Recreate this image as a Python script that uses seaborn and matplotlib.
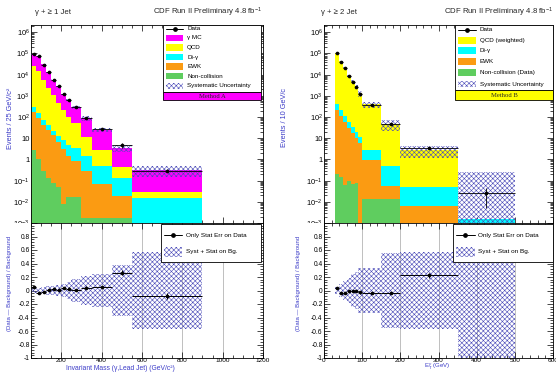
import numpy as np
import pandas as pd
import matplotlib
matplotlib.use("Agg")
import matplotlib.pyplot as plt
import seaborn as sns
from matplotlib.patches import Rectangle
from matplotlib.lines import Line2D
from matplotlib.ticker import MultipleLocator, LogLocator, FuncFormatter, NullFormatter, FixedLocator

# ---------------- gamma + >=1 jet : invariant mass (Method A) ----------------
mass_edges = [50, 75, 100, 125, 150, 175, 200, 225, 250, 300, 350, 450, 550, 900]
# cumulative stack levels (bottom -> top), Events / 25 GeV/c^2
mass_lvl_noncoll = [2.7, 1.0, 0.3, 0.14, 0.08, 0.05, 0.008, 0.017, 0.016, 0.0018, 0.0017, 0.0018, 0]
mass_lvl_ewk = [178, 87, 42, 24, 14, 6.6, 3.2, 1.5, 0.8, 0.3, 0.07, 0.019, 0]
mass_lvl_diphoton = [310, 150, 75, 40, 22, 13, 8, 5, 3.5, 1.5, 0.5, 0.14, 0.015]
mass_lvl_qcd = [2.5e4, 1.45e4, 5.7e3, 2.3e3, 1.1e3, 450, 215, 100, 55, 12, 2.7, 0.44, 0.028]
mass_lvl_gmc = [9.0e4, 7.6e4, 3.1e4, 1.29e4, 5.7e3, 2.8e3, 1.24e3, 640, 285, 87, 25, 3.65, 0.33]
mass_data = [9.5e4, 7.3e4, 3.0e4, 1.3e4, 5.8e3, 2.8e3, 1.28e3, 650, 285, 90, 26, 4.6, 0.30]
mass_data_err = [310, 270, 170, 115, 76, 53, 36, 25, 12, 6.7, 2.5, 1.1, 0.05]
mass_ratio = [0.05, -0.035, -0.028, 0.012, 0.022, 0.005, 0.037, 0.027, 0.005, 0.04, 0.055, 0.265, -0.085]
mass_ratio_err = [0.004, 0.005, 0.006, 0.008, 0.01, 0.012, 0.015, 0.018, 0.015, 0.02, 0.015, 0.035, 0.045]
mass_band = [0.035, 0.04, 0.05, 0.06, 0.07, 0.08, 0.1, 0.12, 0.17, 0.22, 0.24, 0.375, 0.565]

# ---------------- gamma + >=2 jet : photon ET (Method B) ----------------
et_edges = [30, 40, 50, 60, 70, 80, 90, 100, 150, 200, 350, 500]
et_lvl_noncoll = [0.2, 0.15, 0.06, 0.1, 0.07, 0.08, 0, 0.014, 0.014, 0, 0]
et_lvl_ewk = [210, 110, 60, 32, 18, 10, 6, 0.93, 0.056, 0.0062, 0]
et_lvl_diphoton = [400, 210, 110, 60, 35, 20, 12, 2.8, 0.49, 0.052, 0.0015]
et_lvl_qcd = [1.02e5, 4.25e4, 2.03e4, 8.7e3, 4.75e3, 2.68e3, 1.3e3, 400, 47, 2.85, 0.0015]
et_data = [1.05e5, 4.1e4, 1.95e4, 8.6e3, 4.7e3, 2.65e3, 1.27e3, 390, 45, 3.5, 0.025]
et_data_err = [320, 200, 140, 93, 69, 51, 36, 9, 3, 0.4, 0.02]
et_syst_up = [0.04, 0.06, 0.1, 0.15, 0.2, 0.25, 0.3, 0.33, 0.55, 0.57, 165]
et_syst_dn = [0.04, 0.06, 0.1, 0.15, 0.2, 0.25, 0.3, 0.33, 0.55, 0.57, 0.95]
et_ratio = [0.035, -0.035, -0.04, -0.01, -0.01, -0.01, -0.025, -0.03, -0.035, 0.225]
et_ratio_err = [0.02, 0.008, 0.008, 0.01, 0.012, 0.015, 0.02, 0.01, 0.01, 0.04]
et_band_up = [0.05, 0.09, 0.14, 0.19, 0.24, 0.28, 0.33, 0.33, 0.55, 0.575, 0.575]
et_band_dn = [0.05, 0.09, 0.14, 0.19, 0.24, 0.28, 0.33, 0.33, 0.55, 0.575, 1.5]

names_a = ["γ MC", "QCD", "Di-γ", "EWK", "Non-collision"]
names_b = ["QCD (weighted)", "Di-γ", "EWK", "Non-collision (Data)"]

C_MAG, C_YEL, C_CYA, C_ORA, C_GRN = "#ff00ff", "#ffff00", "#00ffff", "#fb9b12", "#5fcd5f"
HATCH_C = "#4a4ab8"
HATCH = "xxxxxxx"
BLUE_TXT = "#3c3cc8"

sns.set_theme(style="white")
plt.rcParams["font.family"] = ["Liberation Sans", "DejaVu Sans"]
plt.rcParams["mathtext.fontset"] = "custom"
plt.rcParams["mathtext.rm"] = "Liberation Sans"
plt.rcParams["mathtext.it"] = "Liberation Sans:italic"
plt.rcParams["axes.unicode_minus"] = False
plt.rcParams["hatch.linewidth"] = 0.4

W, H = 556, 372
fig = plt.figure(figsize=(W / 100, H / 100), dpi=100)
fig.patch.set_facecolor("white")


def fx(x):
    return x / W


def fy(y):
    return 1 - y / H


def px_axes(x0, y0, x1, y1):
    return fig.add_axes([fx(x0), fy(y1), (x1 - x0) / W, (y1 - y0) / H])


ax_a = px_axes(31, 25, 263, 223)
ax_ar = px_axes(31, 223, 263, 358)
ax_b = px_axes(324, 25, 553, 223)
ax_br = px_axes(324, 223, 553, 358)
for a in (ax_ar, ax_br):
    a.set_zorder(2)
# the lower pads hide whatever of the upper pads' labels spills below them
fig.add_artist(Rectangle((0, 0), fx(31), fy(223), transform=fig.transFigure,
                         fc="white", ec="none", zorder=1))
fig.add_artist(Rectangle((fx(280), 0), fx(324) - fx(280), fy(223), transform=fig.transFigure,
                         fc="white", ec="none", zorder=1))


def stack_frame(edges, names_top_down, levels_bottom_up):
    edges = np.asarray(edges, float)
    centers = 0.5 * (edges[:-1] + edges[1:])
    frames = []
    prev = np.zeros(len(centers))
    for name, lev in zip(names_top_down[::-1], levels_bottom_up):
        lev = np.asarray(lev, float)
        comp = np.clip(lev - prev, 0, None)
        prev = np.maximum(prev, lev)
        frames.append(pd.DataFrame({"x": centers, "w": comp, "component": name}))
    return pd.concat(frames, ignore_index=True)


def log_label(v, pos):
    e = int(round(np.log10(v)))
    if e == 0:
        return "1"
    if e == 1:
        return "10"
    return r"$10^{%d}$" % e


def root_style(ax, labelsize=4.6):
    ax.set_facecolor("white")
    for s in ax.spines.values():
        s.set_color("black")
        s.set_linewidth(0.6)
    ax.tick_params(which="both", direction="in", top=True, right=True, bottom=True, left=True,
                   colors="black", labelsize=labelsize, pad=1.0)
    ax.tick_params(which="major", length=4, width=0.5)
    ax.tick_params(which="minor", length=2, width=0.5)
    ax.set_xlabel("")
    ax.set_ylabel("")


def top_panel(ax, edges, names, colors, levels, data, data_err, up, dn, xlim, xmaj, xmin):
    df = stack_frame(edges, names, levels)
    sns.histplot(data=df, x="x", weights="w", hue="component", hue_order=names,
                 palette=dict(zip(names, colors)), bins=edges, multiple="stack",
                 element="step", fill=True, alpha=1, linewidth=0, legend=False, ax=ax)
    edges = np.asarray(edges, float)
    total = np.asarray(levels[-1], float)
    lo = np.clip(total * (1 - np.asarray(dn)), 1e-5, None)
    hi = total * (1 + np.asarray(up))
    ax.fill_between(edges, np.append(lo, lo[-1]), np.append(hi, hi[-1]), step="post",
                    facecolor="none", edgecolor=HATCH_C, linewidth=0, hatch=HATCH, zorder=3)
    centers = 0.5 * (edges[:-1] + edges[1:])
    half = 0.5 * np.diff(edges)
    ax.errorbar(centers, data, xerr=half, yerr=data_err, fmt="none", ecolor="black",
                elinewidth=0.6, capsize=0, zorder=5)
    sns.scatterplot(x=centers, y=data, color="black", s=7, linewidth=0, ax=ax, zorder=6)
    ax.set_yscale("log")
    ax.set_ylim(1e-3, 2.2e6)
    ax.set_xlim(*xlim)
    root_style(ax, labelsize=5.4)
    ax.yaxis.set_major_locator(LogLocator(base=10, numticks=20))
    ax.yaxis.set_minor_locator(LogLocator(base=10, subs=np.arange(2, 10), numticks=20))
    ax.yaxis.set_major_formatter(FuncFormatter(log_label))
    ax.yaxis.set_minor_formatter(NullFormatter())
    ax.xaxis.set_major_locator(MultipleLocator(xmaj))
    ax.xaxis.set_minor_locator(MultipleLocator(xmin))
    ax.tick_params(axis="x", labelbottom=False)


def ratio_label(v, pos):
    if v > 0.9:
        return ""
    if abs(v) < 1e-9:
        return "0"
    if abs(abs(v) - 1) < 1e-9:
        return "-1"
    return f"{v:.1f}"


def ratio_panel(ax, edges, ratio, ratio_err, band_up, band_dn, xlim, xmaj, xmin, xticks):
    edges = np.asarray(edges, float)
    up = np.asarray(band_up, float)
    dn = np.asarray(band_dn, float)
    ax.grid(True, axis="x", which="major", color="#b4b4b4", linewidth=0.6, zorder=0)
    ax.fill_between(edges, np.append(-dn, -dn[-1]), np.append(up, up[-1]), step="post",
                    facecolor="none", edgecolor=HATCH_C, linewidth=0, hatch=HATCH, zorder=2)
    n = len(ratio)
    centers = 0.5 * (edges[:-1] + edges[1:])[:n]
    half = (0.5 * np.diff(edges))[:n]
    ax.errorbar(centers, ratio, xerr=half, yerr=ratio_err, fmt="none", ecolor="black",
                elinewidth=0.7, capsize=0, zorder=5)
    sns.scatterplot(x=centers, y=ratio, color="black", s=7, linewidth=0, ax=ax, zorder=6)
    ax.set_xlim(*xlim)
    ax.set_ylim(-1, 1)
    root_style(ax, labelsize=4.8)
    ax.set_axisbelow(True)
    ax.yaxis.set_major_locator(MultipleLocator(0.2))
    ax.yaxis.set_minor_locator(MultipleLocator(0.04))
    ax.yaxis.set_major_formatter(FuncFormatter(ratio_label))
    ax.xaxis.set_major_locator(FixedLocator(xticks))
    ax.xaxis.set_minor_locator(MultipleLocator(xmin))
    ax.xaxis.set_major_formatter(FuncFormatter(lambda v, p: f"{v:.0f}"))
    ax.tick_params(axis="x", pad=0.3, labelsize=4.6)


top_panel(ax_a, mass_edges, names_a, [C_MAG, C_YEL, C_CYA, C_ORA, C_GRN],
          [mass_lvl_noncoll, mass_lvl_ewk, mass_lvl_diphoton, mass_lvl_qcd, mass_lvl_gmc],
          mass_data, mass_data_err, mass_band, mass_band, (50, 1200), 200, 50)
top_panel(ax_b, et_edges, names_b, [C_YEL, C_CYA, C_ORA, C_GRN],
          [et_lvl_noncoll, et_lvl_ewk, et_lvl_diphoton, et_lvl_qcd],
          et_data, et_data_err, et_syst_up, et_syst_dn, (0, 600), 100, 20)
ratio_panel(ax_ar, mass_edges, mass_ratio, mass_ratio_err, mass_band, mass_band,
            (50, 1200), 200, 50, [200, 400, 600, 800, 1000, 1200])
ratio_panel(ax_br, et_edges, et_ratio, et_ratio_err, et_band_up, et_band_dn,
            (0, 600), 100, 20, [0, 100, 200, 300, 400, 500, 600])


# ---------------- keys ----------------
def box(ax, x0, y0, x1, y1, fc="white", lw=0.6):
    ax.add_patch(Rectangle((fx(x0), fy(y1)), fx(x1) - fx(x0), fy(y0) - fy(y1),
                           transform=fig.transFigure, fc=fc, ec="black", lw=lw,
                           zorder=20, clip_on=False))


def swatch(ax, x0, x1, y, h, fc, hatch=None):
    ax.add_patch(Rectangle((fx(x0), fy(y + h / 2)), fx(x1) - fx(x0), h / H,
                           transform=fig.transFigure, fc=fc,
                           ec=HATCH_C if hatch else "none", lw=0, hatch=hatch,
                           zorder=21, clip_on=False))


def data_swatch(ax, x0, x1, y):
    ax.add_line(Line2D([fx(x0), fx(x1)], [fy(y), fy(y)], transform=fig.transFigure,
                       color="black", lw=0.7, zorder=22, clip_on=False))
    ax.add_line(Line2D([fx((x0 + x1) / 2)], [fy(y)], transform=fig.transFigure, marker="o",
                       ms=2.4, color="black", lw=0, zorder=23, clip_on=False))


def key_text(ax, x, y, s, fs=4.5, **kw):
    ax.text(fx(x), fy(y), s, transform=fig.transFigure, fontsize=fs, ha="left",
            va="center", zorder=24, color="black", **kw)


# Method A key
box(ax_a, 163, 25, 261, 92)
rows_a = [("Data", None), ("γ MC", C_MAG), ("QCD", C_YEL), ("Di-γ", C_CYA),
          ("EWK", C_ORA), ("Non-collision", C_GRN), ("Systematic Uncertainty", "hatch")]
ys_a = [28.7, 38, 47.5, 57, 66.6, 76.3, 85.8]
for (lab, col), y in zip(rows_a, ys_a):
    if col is None:
        data_swatch(ax_a, 166, 183, y)
    elif col == "hatch":
        swatch(ax_a, 166, 183, y, 5.5, "white", hatch=HATCH)
    else:
        swatch(ax_a, 166, 183, y, 6.2, col)
    key_text(ax_a, 187, y, lab)
box(ax_a, 163, 92, 261, 100, fc=C_MAG)
ax_a.text(fx(212), fy(96.2), "Method A", transform=fig.transFigure, fontsize=4.8,
          ha="center", va="center", family=["Liberation Serif"], zorder=24)

# Method B key
box(ax_b, 455, 25, 553, 90)
rows_b = [("Data", None), ("QCD (weighted)", C_YEL), ("Di-γ", C_CYA), ("EWK", C_ORA),
          ("Non-collision (Data)", C_GRN), ("Systematic Uncertainty", "hatch")]
ys_b = [29.5, 40.2, 50.8, 61.6, 72.3, 84.2]
for (lab, col), y in zip(rows_b, ys_b):
    if col is None:
        data_swatch(ax_b, 458, 476, y)
    elif col == "hatch":
        swatch(ax_b, 458, 476, y, 6, "white", hatch=HATCH)
    else:
        swatch(ax_b, 458, 476, y, 6.8, col)
    key_text(ax_b, 479.5, y, lab)
box(ax_b, 455, 90, 553, 100, fc=C_YEL)
ax_b.text(fx(504), fy(95.3), "Method B", transform=fig.transFigure, fontsize=4.8,
          ha="center", va="center", family=["Liberation Serif"], zorder=24)

# ratio keys
for ax, x0, x1, sx0, sx1, tx in ((ax_ar, 161, 261, 163.5, 182, 185.5),
                                 (ax_br, 453, 553, 456, 474.5, 478)):
    box(ax, x0, 224, x1, 262)
    data_swatch(ax, sx0, sx1, 235)
    key_text(ax, tx, 235, "Only Stat Err on Data", fs=4.6)
    swatch(ax, sx0, sx1, 252, 10.5, "white", hatch=HATCH)
    key_text(ax, tx, 252, "Syst + Stat on Bg.", fs=4.6)

# ---------------- titles and axis titles ----------------
fig.text(fx(35), fy(12), "γ + ≥ 1 Jet", fontsize=5.6, ha="left", va="center")
fig.text(fx(262), fy(12), "CDF Run II Preliminary 4.8 fb$^{-1}$", fontsize=5.6,
         ha="right", va="center")
fig.text(fx(321), fy(12), "γ + ≥ 2 Jet", fontsize=5.6, ha="left", va="center")
fig.text(fx(553), fy(12), "CDF Run II Preliminary 4.8 fb$^{-1}$", fontsize=5.6,
         ha="right", va="center")

fig.text(fx(11), fy(88), "Events / 25 GeV/c²", rotation=90, fontsize=5.3,
         ha="center", va="top", color=BLUE_TXT)
fig.text(fx(284), fy(88), "Events / 10 GeV/c", rotation=90, fontsize=5.3,
         ha="center", va="top", color=BLUE_TXT)
fig.text(fx(9.5), fy(283), "(Data — Background) / Background", rotation=90, fontsize=4.3,
         ha="center", va="center", color=BLUE_TXT, zorder=3)
fig.text(fx(298.5), fy(283), "(Data — Background) / Background", rotation=90, fontsize=4.3,
         ha="center", va="center", color=BLUE_TXT, zorder=3)
fig.text(fx(120), fy(368), "Invariant Mass (γ,Lead Jet) (GeV/c²)", fontsize=4.9,
         ha="center", va="center", color=BLUE_TXT, zorder=3)
fig.text(fx(437), fy(371.5), r"E$_{\mathrm{T}}^{\gamma}$ (GeV)", fontsize=4.4,
         ha="center", va="bottom", color=BLUE_TXT, zorder=3)

fig.savefig("out.png", dpi=100, facecolor="white")
